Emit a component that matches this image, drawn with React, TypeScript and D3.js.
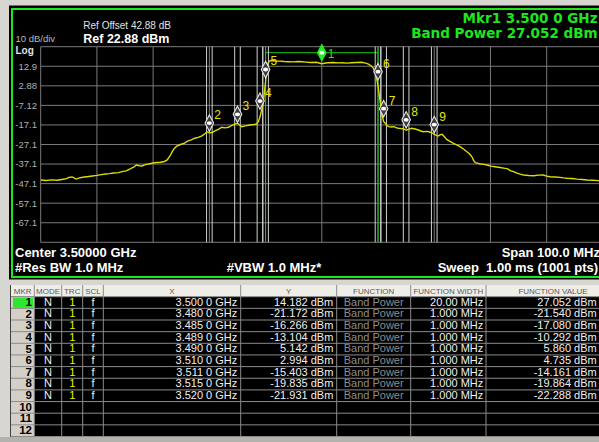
import React from 'react';
import * as d3 from 'd3';

const W = 599;
const H = 442;
const FONT = '"Liberation Sans", Arial, Helvetica, sans-serif';
const READOUT_FONT = '"DejaVu Sans", "Liberation Sans", Arial, sans-serif';

// Sweep: 3.45 GHz .. 3.55 GHz, offsets in MHz from the start frequency
const startGHz = 3.45;
const stopGHz = 3.55;
const refLevel = 22.88;
const dbPerDiv = 10;

const traceOffsetMHz = [
  0.0, 1.0, 2.0, 3.0, 4.0, 4.6, 5.0, 5.6, 6.3, 7.0, 7.8, 8.5, 9.2, 10.0, 10.8, 11.5, 12.2, 13.0,
  13.8, 14.5, 15.2, 16.0, 16.6, 17.0, 17.5, 18.0, 18.6, 19.2, 20.0, 20.6, 21.3, 22.0, 22.5, 23.0,
  23.4, 23.8, 24.2, 25.0, 25.6, 26.2, 26.8, 27.4, 28.0, 28.6, 29.2, 29.6, 30.0, 30.5, 31.0, 31.6,
  32.2, 32.8, 33.4, 34.0, 34.6, 35.0, 35.4, 35.8, 36.4, 36.9, 37.5, 38.0, 38.4, 38.7, 39.0, 39.3,
  39.6, 40.0, 40.2, 40.5, 40.8, 41.3, 41.7, 42.5, 43.3, 44.1, 45.0, 45.8, 46.4, 47.2, 48.0, 49.0,
  50.0, 51.0, 52.0, 53.0, 53.6, 54.5, 55.3, 56.2, 57.1, 57.8, 58.3, 58.8, 59.2, 59.6, 60.0, 60.3,
  60.7, 61.0, 61.3, 61.6, 61.9, 62.4, 62.8, 63.2, 63.6, 64.2, 64.6, 65.0, 65.5, 66.0, 66.6, 67.2,
  67.6, 68.1, 68.6, 69.0, 69.5, 70.0, 70.4, 70.7, 71.0, 71.4, 71.8, 72.2, 72.8, 73.4, 74.0, 74.6,
  75.2, 75.8, 76.3, 76.7, 77.0, 77.3, 77.8, 78.2, 78.8, 79.4, 80.1, 80.8, 81.7, 82.6, 83.1, 83.5,
  84.1, 84.7, 85.3, 85.9, 86.8, 87.7, 88.5, 89.4, 90.0, 90.6, 91.5, 92.4, 93.0, 93.6, 94.5, 95.4,
  96.3, 97.2, 98.2, 99.2, 100.0,
];

const traceDbm = [
  -45.3, -45.5, -45.2, -45.4, -44.9, -44.6, -43.9, -43.7, -44.8, -44.1, -43.7, -43.5, -43.2, -42.9, -42.5, -42.2, -42.0, -41.7,
  -41.5, -41.0, -40.6, -39.5, -38.6, -37.6, -38.0, -38.1, -37.4, -37.1, -36.6, -36.3, -36.2, -35.8, -35.0, -33.0,
  -30.8, -29.0, -28.0, -27.0, -26.4, -25.3, -24.8, -23.9, -23.5, -22.8, -21.6, -20.6, -21.17, -21.0, -20.2, -19.4,
  -18.3, -18.6, -18.3, -17.4, -16.6, -16.27, -17.3, -18.0, -17.6, -17.3, -17.0, -16.9, -16.6, -15.5, -13.1, -9.5,
  -5.6, 5.14, 12.7, 14.9, 15.7, 15.8, 15.6, 15.5, 15.3, 15.2, 15.1, 15.3, 15.2, 15.0, 14.8, 14.9,
  14.18, 14.7, 14.8, 14.6, 14.7, 14.5, 14.7, 14.8, 14.9, 14.5, 14.0, 13.0, 11.8, 9.0, 2.99, -3.5,
  -12.0, -15.4, -16.3, -17.4, -18.0, -18.2, -18.0, -18.5, -18.8, -19.0, -19.2, -19.84, -19.3, -18.8, -19.2, -19.7,
  -20.2, -20.6, -20.4, -20.6, -21.0, -21.93, -22.5, -22.8, -22.2, -21.9, -23.2, -24.5, -25.5, -26.5, -27.3, -28.2,
  -29.4, -30.8, -32.0, -33.4, -35.2, -36.4, -36.8, -37.1, -37.3, -37.6, -38.2, -38.5, -38.9, -39.3, -39.6, -40.5,
  -41.0, -41.8, -42.3, -42.7, -43.0, -43.1, -42.8, -42.7, -43.3, -43.6, -43.7, -43.9, -44.2, -44.4, -44.5, -44.8,
  -45.0, -45.3, -45.4, -45.6, -45.8,
];

const yTickLabels = ['12.9', '2.88', '-7.12', '-17.1', '-27.1', '-37.1', '-47.1', '-57.1', '-67.1'];

// Marker table
const markerIds = [1, 2, 3, 4, 5, 6, 7, 8, 9];
const markerModes = ['N', 'N', 'N', 'N', 'N', 'N', 'N', 'N', 'N'];
const markerTraces = ['1', '1', '1', '1', '1', '1', '1', '1', '1'];
const markerScales = ['f', 'f', 'f', 'f', 'f', 'f', 'f', 'f', 'f'];
const markerFreqGHz = [3.5, 3.48, 3.485, 3.489, 3.49, 3.51, 3.511, 3.515, 3.52];
const markerYdBm = [14.182, -21.172, -16.266, -13.104, 5.142, 2.994, -15.403, -19.835, -21.931];
const markerFunction = ['Band Power', 'Band Power', 'Band Power', 'Band Power', 'Band Power', 'Band Power', 'Band Power', 'Band Power', 'Band Power'];
const markerWidthMHz = [20, 1, 1, 1, 1, 1, 1, 1, 1];
const markerBandPower = [27.052, -21.54, -17.08, -10.292, 5.86, 4.735, -14.161, -19.864, -22.288];
const tableRowCount = 12;
const tableHeaders = ['MKR', 'MODE', 'TRC', 'SCL', 'X', 'Y', 'FUNCTION', 'FUNCTION WIDTH', 'FUNCTION VALUE'];

// Layout
const plot = { left: 40.7, right: 602.9, top: 46.7, bottom: 242.3 };
const colEdges = [11, 34.3, 61.7, 82.7, 103.3, 240.7, 336.7, 410.7, 486, 620];
const table = { top: 285, headerBottom: 296.7, rowH: 11.65 };

const x = d3.scaleLinear().domain([startGHz, stopGHz]).range([plot.left, plot.right]);
const y = d3.scaleLinear().domain([refLevel - 10 * dbPerDiv, refLevel]).range([plot.bottom, plot.top]);

const fmtX = (f: number) => {
  const s = f.toFixed(4);
  return `${s.slice(0, -1)} ${s.slice(-1)} GHz`;
};
const fmtDbm = (v: number) => `${v.toFixed(3)} dBm`;
const fmtWidth = (v: number) => `${d3.format('.4r')(v)} MHz`;

const diamond = (cx: number, cy: number, w = 4.3, h = 8.2) =>
  `M${cx},${cy - h}L${cx + w},${cy}L${cx},${cy + h}L${cx - w},${cy}Z`;

export default function App() {
  const tracePts: [number, number][] = traceOffsetMHz.map((m, i) => [x(startGHz + m / 1000), y(traceDbm[i])]);
  const tracePath = d3.line()(tracePts) || '';

  const xGrid = d3.range(0, 11).map((k) => startGHz + k * 0.01);
  const yGrid = d3.range(0, 11).map((k) => refLevel - k * dbPerDiv);

  // diamond sits just above its band power level, held inside the graticule when above it
  const markerCy = markerBandPower.map((v) => Math.max(y(v) - 10.5, plot.top + 6));

  const gridColor = '#7a7a7a';
  const green = '#1ee61e';

  const colCenter = (c: number) => (colEdges[c] + colEdges[c + 1]) / 2;
  const rowTop = (r: number) => table.headerBottom + r * table.rowH;

  return (
    <svg
      width={W}
      height={H}
      style={{ position: 'absolute', left: 0, top: 0, display: 'block' }}
      fontFamily={FONT}
    >
      <rect x={0} y={0} width={W} height={H} fill="#d8d6d0" />
      {/* instrument screen */}
      <rect x={9} y={5.5} width={W} height={274} fill="#000" />
      <rect x={12} y={9} width={W + 10} height={268} fill="none" stroke={green} strokeWidth={2} />

      <defs>
        <clipPath id="plotClip">
          <rect x={plot.left} y={plot.top - 1} width={plot.right - plot.left} height={plot.bottom - plot.top + 2} />
        </clipPath>
      </defs>

      {/* graticule */}
      {yGrid.map((v, i) => (
        <line key={`h${i}`} x1={plot.left} x2={plot.right} y1={y(v)} y2={y(v)} stroke={gridColor} strokeWidth={1} />
      ))}
      {xGrid.map((f, i) => (
        <line key={`v${i}`} x1={x(f)} x2={x(f)} y1={plot.top} y2={plot.bottom} stroke={gridColor} strokeWidth={1} />
      ))}

      {/* y tick labels */}
      {yTickLabels.map((t, i) => (
        <text key={t} x={37} y={y(refLevel - (i + 1) * dbPerDiv) + 3.4} textAnchor="end" fontSize={9.5} fill="#b0b0b0">
          {t}
        </text>
      ))}

      {/* band-power integration edges */}
      {markerIds.map((id, i) => {
        const lo = x(markerFreqGHz[i] - markerWidthMHz[i] / 2000);
        const hi = x(markerFreqGHz[i] + markerWidthMHz[i] / 2000);
        const col = id === 1 ? '#10c810' : '#d0d0d0';
        return (
          <g key={`b${id}`}>
            <line x1={lo} x2={lo} y1={plot.top} y2={plot.bottom} stroke={col} strokeWidth={1} />
            <line x1={hi} x2={hi} y1={plot.top} y2={plot.bottom} stroke={col} strokeWidth={1} />
            {id === 1 && <line x1={lo} x2={hi} y1={markerCy[i]} y2={markerCy[i]} stroke="#10c810" strokeWidth={1} />}
          </g>
        );
      })}

      {/* trace 1 */}
      <path d={tracePath} fill="none" stroke="#dcdc00" strokeWidth={1.4} clipPath="url(#plotClip)" />

      {/* markers */}
      {markerIds.map((id, i) => {
        const cx = x(markerFreqGHz[i]);
        const cy = markerCy[i];
        const active = id === 1;
        return (
          <g key={`m${id}`}>
            <path
              d={diamond(cx, cy)}
              fill={active ? '#22ee22' : '#3a3a3a'}
              stroke={active ? '#22ee22' : '#e8e8e8'}
              strokeWidth={1.1}
            />
            <ellipse cx={cx} cy={cy} rx={2.6} ry={1.9} fill="#ffffff" />
            <text
              x={cx + (active ? 6 : 5)}
              y={active ? cy + 5.5 : cy - 4}
              fontSize={12}
              fill={active ? green : '#e6e600'}
            >
              {id}
            </text>
          </g>
        );
      })}

      {/* annotations */}
      <text x={83.3} y={29} fontSize={10} fill="#e0e0e0">Ref Offset 42.88 dB</text>
      <text x={83.3} y={42.5} fontSize={12.5} fontWeight="bold" fill="#ffffff">Ref 22.88 dBm</text>
      <text x={15.5} y={42.3} fontSize={9.5} fill="#b8b8b8">10 dB/div</text>
      <text x={15.5} y={53.5} fontSize={10} fontWeight="bold" fill="#e0e0e0">Log</text>

      <text x={597.5} y={22.5} textAnchor="end" fontSize={13.5} fontWeight="bold" fill={green} fontFamily={READOUT_FONT}>
        {`Mkr${markerIds[0]} ${fmtX(markerFreqGHz[0])}`}
      </text>
      <text x={597.5} y={38.3} textAnchor="end" fontSize={13.5} fontWeight="bold" fill={green} fontFamily={READOUT_FONT}>
        {`${markerFunction[0]} ${fmtDbm(markerBandPower[0])}`}
      </text>

      <text x={15} y={257} fontSize={13} fontWeight="bold" fill="#ffffff">Center 3.50000 GHz</text>
      <text x={15} y={271.5} fontSize={13} fontWeight="bold" fill="#ffffff">#Res BW 1.0 MHz</text>
      <text x={226.7} y={271.5} fontSize={13} fontWeight="bold" fill="#ffffff">#VBW 1.0 MHz*</text>
      <text x={501.7} y={257} fontSize={13} fontWeight="bold" fill="#ffffff">Span 100.0 MHz</text>
      <text x={437.7} y={271.5} fontSize={13} fontWeight="bold" fill="#ffffff" style={{ whiteSpace: 'pre' }}>
        {'Sweep  1.00 ms (1001 pts)'}
      </text>

      {/* marker table */}
      <rect x={10} y={table.top} width={W} height={rowTop(tableRowCount) - table.top} fill="#000" />
      <rect x={10} y={table.top} width={W} height={table.headerBottom - table.top} fill="#efede7" />
      <line x1={10.5} x2={10.5} y1={table.top} y2={rowTop(tableRowCount)} stroke="#404040" />
      <rect x={colEdges[0]} y={table.headerBottom} width={colEdges[1] - colEdges[0]} height={rowTop(tableRowCount) - table.headerBottom} fill="#d4d0c8" />
      <rect x={colEdges[0] + 2} y={rowTop(0) + 1} width={colEdges[1] - colEdges[0] - 3} height={table.rowH - 1.5} fill="#2ee62e" />
      {d3.range(0, tableRowCount + 1).map((r) => (
        <line key={`rl${r}`} x1={colEdges[0]} x2={W} y1={rowTop(r)} y2={rowTop(r)} stroke="#8a8a8a" strokeWidth={1} />
      ))}
      {colEdges.slice(1, -1).map((cx, i) => (
        <line key={`cl${i}`} x1={cx} x2={cx} y1={table.top} y2={rowTop(tableRowCount)} stroke="#8a8a8a" strokeWidth={1} />
      ))}
      {tableHeaders.map((h, c) => (
        <text key={h} x={colCenter(c)} y={293.8} textAnchor="middle" fontSize={8} fill="#5a5a5a">
          {h}
        </text>
      ))}
      {d3.range(0, tableRowCount).map((r) => (
        <text key={`id${r}`} x={32} y={rowTop(r) + 9.2} textAnchor="end" fontSize={11.5} fontWeight="bold" fill="#000">
          {r + 1}
        </text>
      ))}
      {markerIds.map((id, i) => {
        const by = rowTop(i) + 9;
        return (
          <g key={`row${id}`} fontSize={11}>
            <text x={colCenter(1)} y={by} textAnchor="middle" fill="#f0f0f0">{markerModes[i]}</text>
            <text x={colCenter(2)} y={by} textAnchor="middle" fill="#f0f000">{markerTraces[i]}</text>
            <text x={colCenter(3)} y={by} textAnchor="middle" fill="#f0f0f0">{markerScales[i]}</text>
            <text x={237.3} y={by} textAnchor="end" fill="#f0f0f0">{fmtX(markerFreqGHz[i])}</text>
            <text x={333.3} y={by} textAnchor="end" fill="#f0f0f0">{fmtDbm(markerYdBm[i])}</text>
            <text x={colCenter(6)} y={by} textAnchor="middle" fill="#8c8c8c">{markerFunction[i]}</text>
            <text x={483.3} y={by} textAnchor="end" fill="#f0f0f0">{fmtWidth(markerWidthMHz[i])}</text>
            <text x={596.7} y={by} textAnchor="end" fill="#f0f0f0">{fmtDbm(markerBandPower[i])}</text>
          </g>
        );
      })}
      <rect x={0} y={rowTop(tableRowCount) + 0.5} width={W} height={H} fill="#b4b2ac" />
    </svg>
  );
}
